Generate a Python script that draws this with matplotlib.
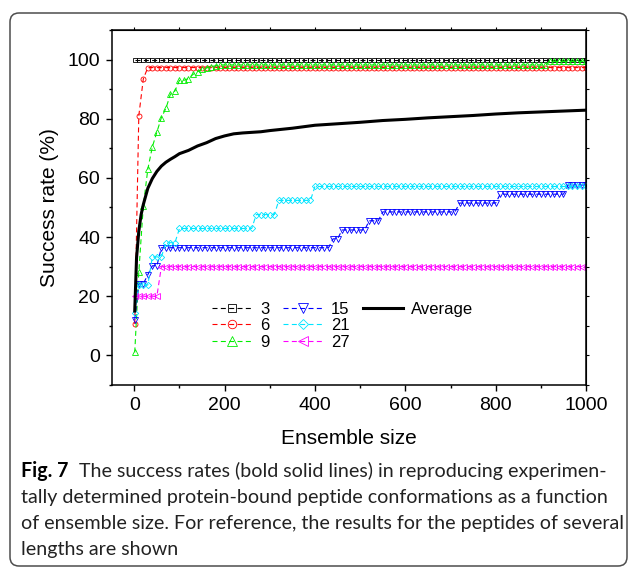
import numpy as np
import matplotlib.pyplot as plt
from matplotlib.lines import Line2D
from matplotlib.patches import FancyBboxPatch
from matplotlib.ticker import MultipleLocator
from matplotlib.transforms import IdentityTransform

# ensemble sizes at which the per-length curves were sampled
ensemble = [1] + list(range(10, 1001, 10))

# success rate (%) per peptide length
rate_3 = [100.0] * 101
rate_6 = [10.6, 81.0, 93.5] + [97.3] * 98
rate_9 = [1.0, 28.1, 50.6, 63.0, 70.5, 75.5, 80.4, 83.5, 88.3, 89.4,
          93.0, 93.0, 93.6, 95.0, 95.9, 96.7, 97.2, 97.6, 97.9] + [98.2] * 73 + [99.4] * 9
rate_15 = ([12.1, 24.2, 24.2, 27.3, 30.3, 30.3] + [36.4] * 38 + [39.4] * 2 + [42.4] * 6
           + [45.5] * 3 + [48.5] * 17 + [51.5] * 9 + [54.5] * 15 + [57.6] * 5)
rate_21 = ([14.3, 23.8, 23.8, 23.8, 33.3, 33.3, 33.3, 38.1, 38.1, 38.1]
           + [42.9] * 17 + [47.6] * 5 + [52.4] * 8 + [57.1] * 61)
rate_27 = [20.0] * 6 + [30.0] * 95

# average over all peptides
avg_x = [1, 5, 10, 15, 20, 30, 40, 50, 60, 70, 80, 90, 100, 120, 140, 160, 180, 200,
         220, 240, 260, 280, 300, 350, 400, 450, 500, 550, 600, 650, 700, 750, 800,
         850, 900, 950, 1000]
avg_rate = [15.0, 33.0, 42.0, 47.5, 51.0, 56.5, 59.8, 62.2, 64.0, 65.3, 66.3, 67.2, 68.2,
            69.3, 70.8, 71.9, 73.3, 74.2, 74.9, 75.2, 75.4, 75.6, 76.0, 76.8, 77.8, 78.3,
            78.8, 79.4, 79.8, 80.3, 80.7, 81.1, 81.6, 82.0, 82.3, 82.6, 82.9]

labels = ["3", "6", "9", "15", "21", "27"]
series = [rate_3, rate_6, rate_9, rate_15, rate_21, rate_27]
colors = ["black", "#ff0000", "#00ee00", "#0000ff", "#00e5ff", "#ff00ff"]
markers = ["s", "o", "^", "v", "D", "<"]
msizes = [3.4, 3.6, 4.2, 4.2, 3.2, 4.2]

plt.rcParams["font.family"] = ["Liberation Sans", "DejaVu Sans"]

fig = plt.figure(figsize=(6.3, 5.67), dpi=100)
ax = fig.add_axes([0.1773, 0.321, 0.7529, 0.6261])

handles = []
for lab, vals, c, m, ms in zip(labels, series, colors, markers, msizes):
    h, = ax.plot(ensemble, vals, color=c, marker=m, markersize=ms, markerfacecolor="none",
                 markeredgewidth=0.6, linewidth=0.8, dashes=(4.5, 3), label=lab)
    handles.append(h)
h, = ax.plot(avg_x, avg_rate, color="black", linewidth=2.2, label="Average")
handles.append(h)

ax.set_xlim(-50, 1000)
ax.set_ylim(-10, 110)
ax.xaxis.set_major_locator(MultipleLocator(200))
ax.xaxis.set_minor_locator(MultipleLocator(100))
ax.yaxis.set_major_locator(MultipleLocator(20))
ax.yaxis.set_minor_locator(MultipleLocator(10))
ax.tick_params(which="major", length=4.5, width=1.0, labelsize=14, pad=4)
ax.tick_params(which="minor", length=2.5, width=1.0)
for s in ax.spines.values():
    s.set_linewidth(1.1)

# small mirror ticks on top and right
top = ax.secondary_xaxis("top")
top.set_xticks(np.arange(0, 1001, 100))
top.tick_params(length=2, width=0.8, labeltop=False)
right = ax.secondary_yaxis("right")
right.set_yticks(np.arange(-10, 111, 10))
right.tick_params(length=2, width=0.8, labelright=False)

ax.set_xlabel("Ensemble size", fontsize=15, labelpad=11)
ax.set_ylabel("Success rate (%)", fontsize=15, labelpad=6)

# two empty slots so the third column holds only "Average"
blank = Line2D([], [], linestyle="none")
ax.legend(handles + [blank, blank], labels + ["Average", "", ""],
          loc="upper left", bbox_to_anchor=(0.211, 0.235), ncol=3, frameon=False,
          fontsize=12, markerscale=1.7, handlelength=2.4, handletextpad=0.5,
          columnspacing=0.8, labelspacing=0.1, borderpad=0, borderaxespad=0)

# caption inside a rounded frame
frame = FancyBboxPatch((10, 1), 617, 553, boxstyle="round,pad=0,rounding_size=9",
                       transform=IdentityTransform(), facecolor="none",
                       edgecolor="#4d4d4d", linewidth=1.1)
fig.add_artist(frame)

cap_lines = ["The success rates (bold solid lines) in reproducing experimen-",
             "tally determined protein-bound peptide conformations as a function",
             "of ensemble size. For reference, the results for the peptides of several",
             "lengths are shown"]
cap_base = [477, 503, 529, 555]
cap_left = 21
cap_font = ["Lato", "DejaVu Sans"]

fig.canvas.draw()
renderer = fig.canvas.get_renderer()
probe = fig.text(0, 0, cap_lines[2], fontsize=12, family=cap_font)
cap_size = 12 * 600 / probe.get_window_extent(renderer).width
probe.remove()

fig_lbl = fig.text(cap_left / 630, 1 - cap_base[0] / 567, "Fig. 7", fontsize=cap_size,
                   family=cap_font, fontweight="bold", va="baseline")
x_end = fig_lbl.get_window_extent(renderer).x1
fig.text((x_end + 0.55 * cap_size * 1.39) / 630, 1 - cap_base[0] / 567, cap_lines[0],
         fontsize=cap_size, family=cap_font, va="baseline", color="#222222")
for line, yb in zip(cap_lines[1:], cap_base[1:]):
    fig.text(cap_left / 630, 1 - yb / 567, line, fontsize=cap_size, family=cap_font,
             va="baseline", color="#222222")

fig.savefig("out.png", dpi=100)
